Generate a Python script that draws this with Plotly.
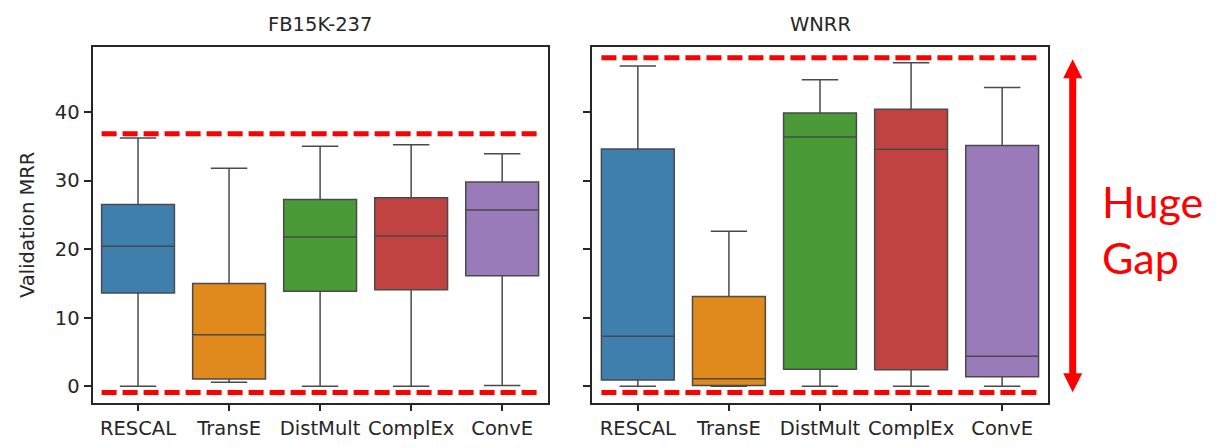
import plotly.graph_objects as go

# ---- data -------------------------------------------------------------
models = ["RESCAL", "TransE", "DistMult", "ComplEx", "ConvE"]
colors = ["#3f7fae", "#e0891c", "#4a9a38", "#c04342", "#9a7bba"]

# FB15K-237 validation MRR summary statistics
fb_lower = [0.0, 0.6, 0.0, 0.0, 0.1]
fb_q1 = [13.6, 1.07, 13.87, 14.06, 16.1]
fb_median = [20.4, 7.5, 21.75, 21.9, 25.7]
fb_q3 = [26.5, 15.0, 27.25, 27.5, 29.8]
fb_upper = [36.2, 31.8, 35.0, 35.2, 33.9]

# WNRR validation MRR summary statistics
wn_lower = [0.0, 0.0, 0.0, 0.0, 0.0]
wn_q1 = [0.92, 0.1, 2.5, 2.4, 1.4]
wn_median = [7.3, 1.1, 36.35, 34.55, 4.4]
wn_q3 = [34.6, 13.1, 39.85, 40.4, 35.1]
wn_upper = [46.7, 22.6, 44.7, 47.15, 43.55]

# dashed reference levels (min / max) per dataset
fb_gap = [-0.92, 36.8]
wn_gap = [-0.92, 47.9]
# double-headed arrow span on the WNRR panel
arrow_span = [-0.87, 47.67]

y_ticks = [0, 10, 20, 30, 40]
y_range = [-2.36, 49.42]

# ---- layout geometry (pixels) ----------------------------------------
W, H = 1216, 448
ax_top, ax_bot = 47.3, 402.5
left_dom = [92.5 / W, 547.7 / W]
right_dom = [592.3 / W, 1047.7 / W]
y_dom = [1 - ax_bot / H, 1 - ax_top / H]
px_per_unit = (ax_bot - ax_top) / (y_range[1] - y_range[0])

FONT = "DejaVu Sans"
TXT = "#262626"
FS = 19.5

fig = go.Figure()


def add_boxes(xaxis, yaxis, lo, q1, med, q3, hi):
    for i, m in enumerate(models):
        fig.add_trace(go.Box(
            x=[m], lowerfence=[lo[i]], q1=[q1[i]], median=[med[i]],
            q3=[q3[i]], upperfence=[hi[i]],
            width=0.8,
            fillcolor=colors[i],
            line=dict(color="#4a4a4a", width=1.5),
            whiskerwidth=0.5,
            boxpoints=False,
            showlegend=False,
            hoverinfo="skip",
            xaxis=xaxis, yaxis=yaxis,
        ))


add_boxes("x", "y", fb_lower, fb_q1, fb_median, fb_q3, fb_upper)
add_boxes("x2", "y2", wn_lower, wn_q1, wn_median, wn_q3, wn_upper)

axis_common = dict(
    showline=True, mirror=True, linecolor=TXT, linewidth=1.8,
    ticks="outside", ticklen=7, tickwidth=1.5, tickcolor=TXT,
    showgrid=False, zeroline=False,
    tickfont=dict(family=FONT, size=FS, color=TXT),
)

fig.update_layout(
    width=W, height=H,
    margin=dict(l=0, r=0, t=0, b=0),
    paper_bgcolor="white", plot_bgcolor="white",
    xaxis=dict(domain=left_dom, type="category", categoryorder="array",
               categoryarray=models, range=[-0.5, 4.5], anchor="y",
               **axis_common),
    yaxis=dict(domain=y_dom, range=y_range, tickvals=y_ticks, anchor="x",
               **axis_common),
    xaxis2=dict(domain=right_dom, type="category", categoryorder="array",
                categoryarray=models, range=[-0.5, 4.5], anchor="y2",
                **axis_common),
    yaxis2=dict(domain=y_dom, range=y_range, tickvals=y_ticks, anchor="x2",
                showticklabels=False, **axis_common),
)

# red dashed min/max lines
shapes = []
for xr, yr, gap in (("x", "y", fb_gap), ("x2", "y2", wn_gap)):
    for v in gap:
        shapes.append(dict(type="line", xref=xr, yref=yr,
                           x0=-0.4, x1=4.4, y0=v, y1=v,
                           line=dict(color="#ff0000", width=5,
                                     dash="15px,6px")))

# double-headed arrow to the right of the WNRR panel
ax_x = 1072.7 / W
head_h = 19 / px_per_unit
head_hw = 9.5 / W
lo_v, hi_v = arrow_span
shapes.append(dict(type="line", xref="paper", yref="y2",
                   x0=ax_x, x1=ax_x, y0=lo_v + head_h * 0.9,
                   y1=hi_v - head_h * 0.9,
                   line=dict(color="#ff0000", width=7)))
shapes.append(dict(type="path", xref="paper", yref="y2",
                   path=f"M {ax_x},{hi_v} L {ax_x - head_hw},{hi_v - head_h} "
                        f"L {ax_x + head_hw},{hi_v - head_h} Z",
                   fillcolor="#ff0000", line=dict(width=0)))
shapes.append(dict(type="path", xref="paper", yref="y2",
                   path=f"M {ax_x},{lo_v} L {ax_x - head_hw},{lo_v + head_h} "
                        f"L {ax_x + head_hw},{lo_v + head_h} Z",
                   fillcolor="#ff0000", line=dict(width=0)))
fig.update_layout(shapes=shapes)

annotations = [
    dict(text="FB15K-237", xref="paper", yref="paper",
         x=sum(left_dom) / 2, y=1 - 24.5 / H, xanchor="center",
         yanchor="middle", showarrow=False,
         font=dict(family=FONT, size=FS, color=TXT)),
    dict(text="WNRR", xref="paper", yref="paper",
         x=sum(right_dom) / 2, y=1 - 24.5 / H, xanchor="center",
         yanchor="middle", showarrow=False,
         font=dict(family=FONT, size=FS, color=TXT)),
    dict(text="Validation MRR", xref="paper", yref="paper",
         x=27 / W, y=1 - 225 / H, xanchor="center", yanchor="middle",
         textangle=-90, showarrow=False,
         font=dict(family=FONT, size=FS, color=TXT)),
    dict(text="Huge<br>Gap", xref="paper", yref="paper",
         x=1100 / W, y=1 - 229 / H, xanchor="left", yanchor="middle",
         align="left", showarrow=False,
         font=dict(family="Lato", size=43, color="#ff0000")),
]
fig.update_layout(annotations=annotations)

fig.write_html("out.html")
